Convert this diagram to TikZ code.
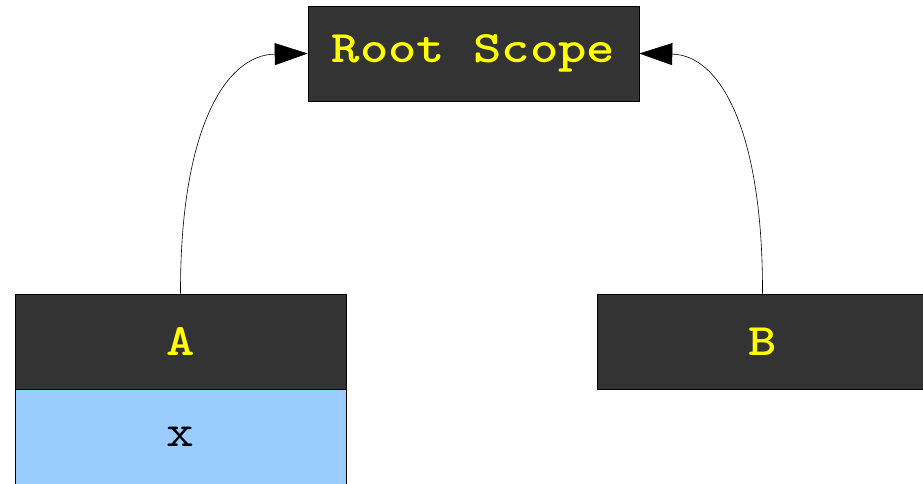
\documentclass[tikz,border=0pt]{standalone}
\usepackage{fontspec}
\usepackage{graphicx}
\usetikzlibrary{arrows.meta}
\definecolor{boxdark}{HTML}{333333}
\definecolor{boxyellow}{HTML}{FFFF00}
\definecolor{boxblue}{HTML}{99CCFF}
\newcommand{\wide}[1]{\scalebox{1.2}[1]{#1}}
\tikzset{
  scopebox/.style={draw=black, line width=0.6pt, fill=boxdark, text=boxyellow,
    minimum width=331pt, minimum height=95pt, inner sep=0pt,
    font=\ttfamily\bfseries\fontsize{45}{50}\selectfont},
  varbox/.style={draw=black, line width=0.6pt, fill=boxblue, text=black,
    minimum width=331pt, minimum height=95pt, inner sep=0pt,
    font=\ttfamily\fontsize{45}{50}\selectfont},
  link/.style={draw=black, line width=0.6pt, -{Triangle[length=33pt,width=22pt]}}
}
\begin{document}
\begin{tikzpicture}[x=1pt,y=-1pt]
\useasboundingbox (0,0) rectangle (923,484);
\clip (0,0) rectangle (923,484);
\node[scopebox] (root) at (473.5,53.5) {\wide{Root Scope}};
\node[scopebox] (a) at (180.5,341.5) {\wide{A}};
\node[varbox] (ax) at (180.5,436.5) {\wide{x}};
\node[scopebox] (b) at (762.5,341.5) {\wide{B}};
\draw[link] (a.north) .. controls (180,130) and (225,55) .. (root.west);
\draw[link] (b.north) .. controls (763,130) and (720,55) .. (root.east);
\end{tikzpicture}
\end{document}
